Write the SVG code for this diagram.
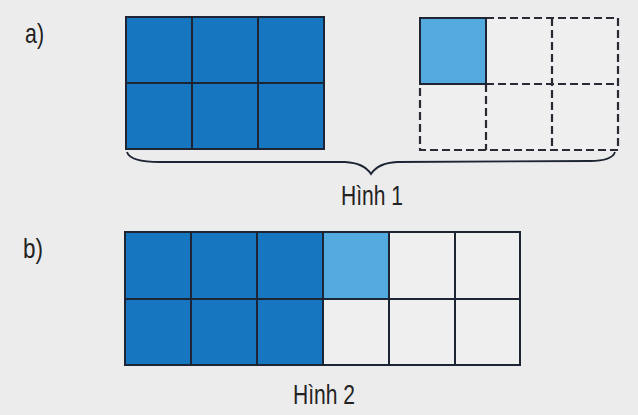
<svg xmlns="http://www.w3.org/2000/svg" width="638" height="415" viewBox="0 0 638 415">
  <style>
    .lbl { font-family: "Liberation Sans", Arial, sans-serif; font-size: 28px; fill: #222222; }
    .dark { fill: #1677c0; }
    .light { fill: #52aadf; }
    .empty { fill: #efefef; }
    .solid { fill: none; stroke: #1d2433; stroke-width: 2; }
    .dash { fill: none; stroke: #2a2a35; stroke-width: 2.2; stroke-dasharray: 8 4; }
    .thin { stroke: #1d2433; stroke-width: 2; }
  </style>
  <rect x="0" y="0" width="638" height="415" fill="#ececec"/>

  <g id="label-a">
    <text class="lbl" x="25" y="43" textLength="19" lengthAdjust="spacingAndGlyphs">a)</text>
  </g>
  <g id="label-b">
    <text class="lbl" x="23" y="258" textLength="20" lengthAdjust="spacingAndGlyphs">b)</text>
  </g>

  <g id="fig1-left">
    <rect class="dark" x="126" y="17" width="198" height="132"/>
    <line class="thin" x1="192" y1="17" x2="192" y2="149"/>
    <line class="thin" x1="258" y1="17" x2="258" y2="149"/>
    <line class="thin" x1="126" y1="83" x2="324" y2="83"/>
    <rect class="solid" x="126" y="17" width="198" height="132"/>
  </g>

  <g id="fig1-right">
    <rect class="empty" x="420" y="18" width="198" height="132"/>
    <path class="dash" d="M486,18 H618 V150 H420 V84 M552,18 V150 M486,84 V150 M486,84 H618"/>
    <rect class="light" x="420" y="18" width="66" height="66"/>
    <rect class="solid" x="420" y="18" width="66" height="66"/>
  </g>

  <g id="connectors">
    <path d="M127,152 Q130,162 160,162 L345,162 Q364,163 371,174 Q378,163 397,162 L590,161 Q612,161 615,152" fill="none" stroke="#1d2433" stroke-width="1.8"/>
  </g>

  <g id="caption-1">
    <text class="lbl" x="341" y="205" textLength="62" lengthAdjust="spacingAndGlyphs">Hình 1</text>
  </g>

  <g id="fig2">
    <rect class="empty" x="125" y="232" width="395" height="133"/>
    <rect class="dark" x="125" y="232" width="198" height="133"/>
    <rect class="light" x="323" y="232" width="66" height="67"/>
    <line class="thin" x1="191" y1="232" x2="191" y2="365"/>
    <line class="thin" x1="257" y1="232" x2="257" y2="365"/>
    <line class="thin" x1="323" y1="232" x2="323" y2="365"/>
    <line class="thin" x1="389" y1="232" x2="389" y2="365"/>
    <line class="thin" x1="455" y1="232" x2="455" y2="365"/>
    <line class="thin" x1="125" y1="299" x2="520" y2="299"/>
    <rect class="solid" x="125" y="232" width="395" height="133"/>
  </g>

  <g id="caption-2">
    <text class="lbl" x="293" y="404" textLength="62" lengthAdjust="spacingAndGlyphs">Hình 2</text>
  </g>
</svg>
